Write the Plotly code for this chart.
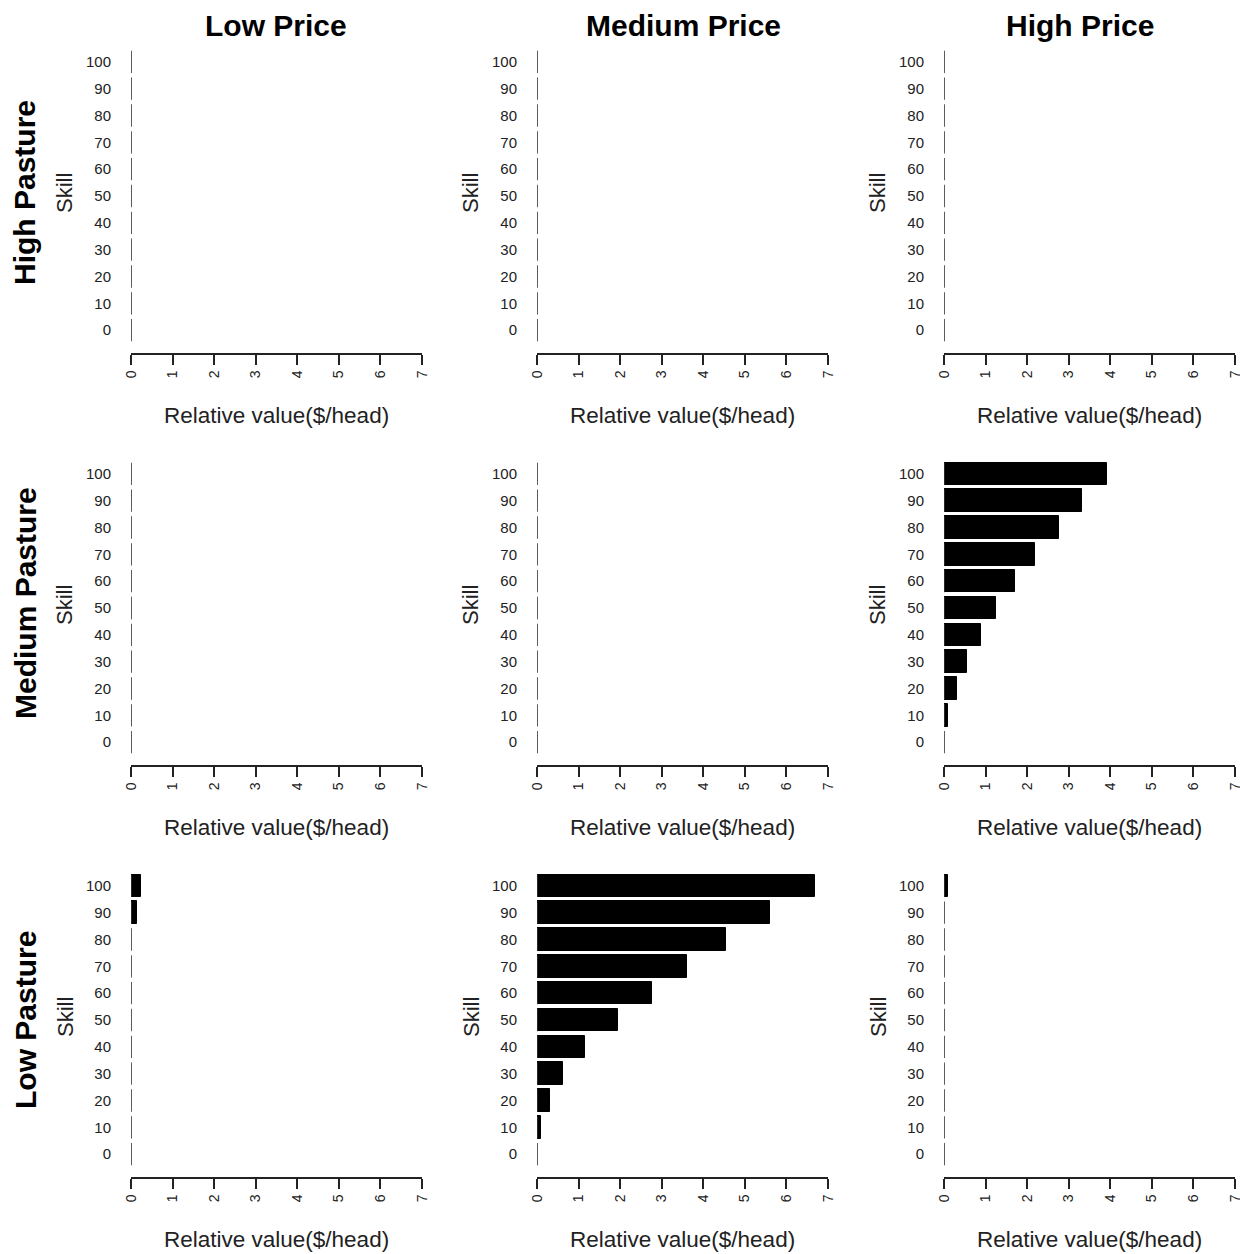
import plotly.graph_objects as go
from plotly.subplots import make_subplots

# ---------------- data ----------------
skill = [0, 10, 20, 30, 40, 50, 60, 70, 80, 90, 100]
price_levels = ["Low Price", "Medium Price", "High Price"]
pasture_levels = ["High Pasture", "Medium Pasture", "Low Pasture"]
x_ticks = [0, 1, 2, 3, 4, 5, 6, 7]

high_pasture_low_price = [0, 0, 0, 0, 0, 0, 0, 0, 0, 0, 0]
high_pasture_medium_price = [0, 0, 0, 0, 0, 0, 0, 0, 0, 0, 0]
high_pasture_high_price = [0, 0, 0, 0, 0, 0, 0, 0, 0, 0, 0]

medium_pasture_low_price = [0, 0, 0, 0, 0, 0, 0, 0, 0, 0, 0]
medium_pasture_medium_price = [0, 0, 0, 0, 0, 0, 0, 0, 0, 0, 0]
medium_pasture_high_price = [0, 0.10, 0.31, 0.56, 0.90, 1.26, 1.71, 2.20, 2.76, 3.32, 3.92]

low_pasture_low_price = [0, 0, 0, 0, 0, 0, 0, 0, -0.05, 0.14, 0.24]
low_pasture_medium_price = [0, 0.10, 0.31, 0.62, 1.15, 1.95, 2.76, 3.60, 4.55, 5.60, 6.68]
low_pasture_high_price = [0, 0, 0, 0, 0, 0, 0, 0, 0, 0, 0.10]

panels = [
    [high_pasture_low_price, high_pasture_medium_price, high_pasture_high_price],
    [medium_pasture_low_price, medium_pasture_medium_price, medium_pasture_high_price],
    [low_pasture_low_price, low_pasture_medium_price, low_pasture_high_price],
]

# ---------------- layout geometry (pixels) ----------------
W, H = 1240, 1254
col_px = [(131, 422), (537, 828), (944, 1235)]
row_px = [(39, 353), (451, 765), (863, 1177)]
col_title_x = [276, 683, 1080]
row_title_y = [193, 603, 1020]

FONT = "Liberation Sans, Arial, sans-serif"
TXT = "#222222"
bar_w = 10 / 1.2

fig = make_subplots(rows=3, cols=3)

for r in range(3):
    for c in range(3):
        vals = panels[r][c]
        fig.add_trace(
            go.Bar(
                x=vals, y=skill, orientation="h", width=bar_w,
                marker=dict(color="black", line=dict(color="black", width=1)),
                cliponaxis=False, showlegend=False, hoverinfo="x+y",
            ),
            row=r + 1, col=c + 1,
        )
        # outline of zero-length bars (bar borders at x=0)
        sx, sy = [], []
        for s in skill:
            sx += [0, 0, None]
            sy += [s - bar_w / 2, s + bar_w / 2, None]
        fig.add_trace(
            go.Scatter(
                x=sx, y=sy, mode="lines", line=dict(color="#333333", width=1.6),
                cliponaxis=False, showlegend=False, hoverinfo="skip",
            ),
            row=r + 1, col=c + 1,
        )

annotations = []
for r in range(3):
    for c in range(3):
        idx = r * 3 + c + 1
        xn = "xaxis" if idx == 1 else f"xaxis{idx}"
        yn = "yaxis" if idx == 1 else f"yaxis{idx}"
        x0, x1 = col_px[c]
        y0, y1 = row_px[r]
        fig.layout[xn].update(
            domain=[x0 / W, x1 / W], range=[0, 7], tickvals=x_ticks,
            ticktext=[str(t) for t in x_ticks], tickangle=-90, automargin=False,
            ticklabeloverflow="allow",
            ticks="outside", ticklen=10, tickwidth=1.5, tickcolor=TXT,
            showline=True, linecolor=TXT, linewidth=1.5,
            showgrid=False, zeroline=False,
            tickfont=dict(family=FONT, size=14, color=TXT),
        )
        fig.layout[yn].update(
            domain=[1 - y1 / H, 1 - y0 / H], range=[-8.5, 108.5], automargin=False,
            tickvals=skill, ticktext=[str(s) for s in skill],
            ticks="outside", ticklen=16, tickcolor="rgba(0,0,0,0)",
            showline=False, showgrid=False, zeroline=False,
            tickfont=dict(family=FONT, size=15, color=TXT),
        )
        # x-axis title
        annotations.append(dict(
            text="Relative value($/head)", x=(x0 + x1) / 2 / W, y=1 - (y1 + 62) / H,
            xref="paper", yref="paper", showarrow=False, xanchor="center", yanchor="middle",
            font=dict(family=FONT, size=22.5, color=TXT),
        ))
        # y-axis title
        annotations.append(dict(
            text="Skill", x=(x0 - 66) / W, y=1 - ((y0 + y1) / 2 - 3) / H,
            xref="paper", yref="paper", showarrow=False, xanchor="center", yanchor="middle",
            textangle=-90, font=dict(family=FONT, size=22, color=TXT),
        ))

for c in range(3):
    annotations.append(dict(
        text=f"<b>{price_levels[c]}</b>", x=col_title_x[c] / W, y=1 - 25 / H,
        xref="paper", yref="paper", showarrow=False, xanchor="center", yanchor="middle",
        font=dict(family=FONT, size=30, color="black"),
    ))
for r in range(3):
    annotations.append(dict(
        text=f"<b>{pasture_levels[r]}</b>", x=25 / W, y=1 - row_title_y[r] / H,
        xref="paper", yref="paper", showarrow=False, xanchor="center", yanchor="middle",
        textangle=-90, font=dict(family=FONT, size=30, color="black"),
    ))

fig.update_layout(
    width=W, height=H, margin=dict(l=0, r=0, t=0, b=0, pad=0), autosize=False,
    paper_bgcolor="white", plot_bgcolor="white",
    annotations=annotations, bargap=0, showlegend=False,
)

fig.write_html(
    "out.html",
    config={"displayModeBar": False, "responsive": False},
    post_script=(
        "document.body.style.margin='0px';document.body.style.padding='0px';"
        "document.body.style.overflow='hidden';"
        "document.documentElement.style.overflow='hidden';"
    ),
)
